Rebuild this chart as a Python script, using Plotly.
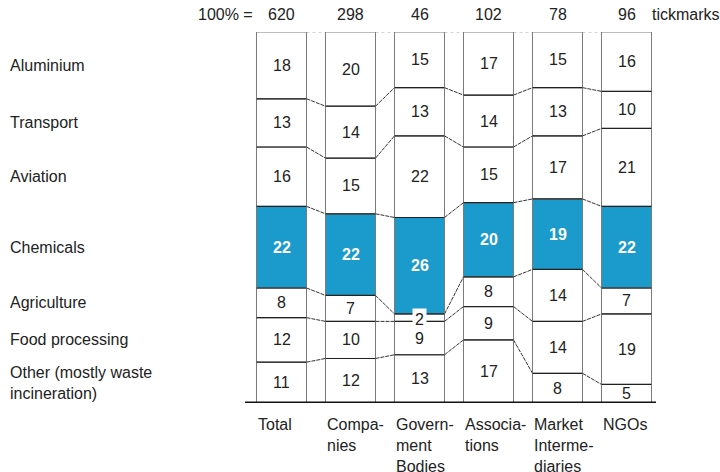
import plotly.graph_objects as go

groups = ["Total", "Compa-<br>nies", "Govern-<br>ment<br>Bodies", "Associa-<br>tions", "Market<br>Interme-<br>diaries", "NGOs"]
totals = [620, 298, 46, 102, 78, 96]
sectors = ["Other (mostly waste<br>incineration)", "Food processing", "Agriculture",
           "Chemicals", "Aviation", "Transport", "Aluminium"]
other = [11, 12, 13, 17, 8, 5]
food = [12, 10, 9, 9, 14, 19]
agriculture = [8, 7, 2, 8, 14, 7]
chemicals = [22, 22, 26, 20, 19, 22]
aviation = [16, 15, 22, 15, 17, 21]
transport = [13, 14, 13, 14, 13, 10]
aluminium = [18, 20, 15, 17, 15, 16]
series = [other, food, agriculture, chemicals, aviation, transport, aluminium]
highlight = "Chemicals"

BLUE = "#1b9bcb"
FONT = "Liberation Sans, Arial, sans-serif"
FS = 16
W = 0.725
L, R, T, B = 247, 59, 32, 69
PW = 720 - L - R

xs = list(range(len(groups)))
fig = go.Figure()
annotations = []
shapes = []

cum = [0] * len(groups)
levels = []
for name, vals in zip(sectors, series):
    hl = name == highlight
    fig.add_trace(go.Bar(
        x=xs, y=vals, base=cum, width=W, name=name,
        marker=dict(color=BLUE if hl else "white", line=dict(color="#7a7a7a", width=1)),
        hoverinfo="skip", showlegend=False,
    ))
    for i, v in enumerate(vals):
        small = v < 4
        ann = dict(
            x=i, y=cum[i] + v / 2, xref="x", yref="y",
            text=("<b>%d</b>" % v) if hl else str(v), showarrow=False,
            font=dict(family=FONT, size=FS, color="white" if hl else "#222"),
        )
        if small:
            ann.update(bgcolor="white", borderpad=2, yshift=-2)
        annotations.append(ann)
    # left sector label aligned with the Total column
    annotations.append(dict(
        x=(8 - L) / PW, y=cum[0] + vals[0] / 2, xref="paper", yref="y", text=name,
        showarrow=False, xanchor="left", align="left",
        font=dict(family=FONT, size=FS, color="#222"),
    ))
    cum = [c + v for c, v in zip(cum, vals)]
    levels.append(list(cum))

# horizontal segment borders (black) and connectors between columns
for k, lev in enumerate(levels):
    top = k == len(levels) - 1
    for i in range(len(groups)):
        if not top:
            shapes.append(dict(type="line", xref="x", yref="y",
                               x0=i - W / 2, x1=i + W / 2, y0=lev[i], y1=lev[i],
                               line=dict(color="#222", width=1.2)))
        if i < len(groups) - 1:
            shapes.append(dict(
                type="line", xref="x", yref="y",
                x0=i + W / 2, x1=i + 1 - W / 2, y0=lev[i], y1=lev[i + 1],
                line=dict(color="#aaa" if top else "#333", width=1.2 if top else 1,
                          dash="dot" if top else "4px,1px"),
                layer="below",
            ))

# baseline
shapes.append(dict(type="line", xref="paper", yref="y", x0=(245 - L) / PW, x1=(656 - L) / PW,
                   y0=0, y1=0, line=dict(color="#111", width=3)))

# top totals
for i, t in enumerate(totals):
    annotations.append(dict(x=i, y=1, xref="x", yref="paper", text=str(t), showarrow=False,
                            yanchor="middle", yshift=18, font=dict(family=FONT, size=FS, color="#222")))
annotations.append(dict(x=(255 - L) / PW, y=1, xref="paper", yref="paper", text="100% =",
                        showarrow=False, xanchor="right", yanchor="middle", yshift=18,
                        font=dict(family=FONT, size=FS, color="#222")))
annotations.append(dict(x=(650 - L) / PW, y=1, xref="paper", yref="paper", text="tickmarks",
                        showarrow=False, xanchor="left", yanchor="middle", yshift=18,
                        font=dict(family=FONT, size=FS, color="#222")))

# group labels below
for i, g in enumerate(groups):
    annotations.append(dict(x=i - W / 2, y=0, xref="x", yref="paper", text=g, showarrow=False,
                            xanchor="left", yanchor="top", align="left", yshift=-11,
                            font=dict(family=FONT, size=FS, color="#222")))

fig.update_layout(
    width=720, height=472, margin=dict(l=L, r=R, t=T, b=B),
    paper_bgcolor="white", plot_bgcolor="white", barmode="overlay",
    xaxis=dict(range=[-0.5, len(groups) - 0.5], visible=False, fixedrange=True),
    yaxis=dict(range=[0, 100], visible=False, fixedrange=True),
    annotations=annotations, shapes=shapes,
)
fig.write_html("out.html", config={"displayModeBar": False},
               post_script="document.body.style.margin='0';document.body.style.overflow='hidden';")
